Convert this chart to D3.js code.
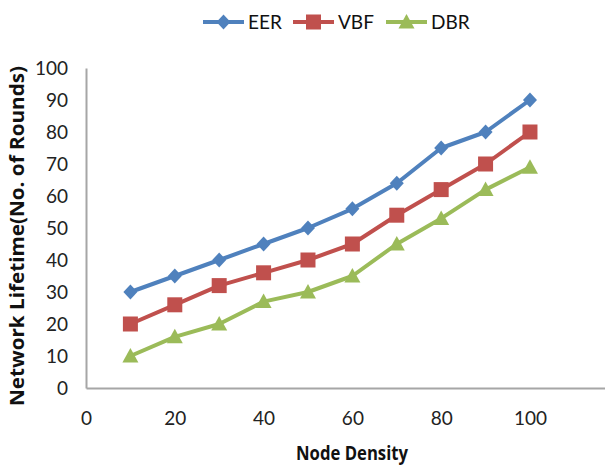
<!DOCTYPE html>
<html><head><meta charset="utf-8">
<script src="https://cdn.jsdelivr.net/npm/d3@7"></script>
<style>body{margin:0;background:#fff}svg{display:block}</style>
</head><body>
<svg id="c" width="605" height="466"></svg>
<script>
const xValues = [10,20,30,40,50,60,70,80,90,100];
const eer = [30,35,40,45,50,56,64,75,80,90];
const vbf = [20,26,32,36,40,45,54,62,70,80];
const dbr = [10,16,20,27,30,35,45,53,62,69];
const seriesNames = ["EER","VBF","DBR"];
const seriesColors = ["#4F81BD","#C0504D","#9BBB59"];
const xTicks = [0,20,40,60,80,100];
const yTicks = [0,10,20,30,40,50,60,70,80,90,100];

const series = [eer,vbf,dbr].map((v,i)=>({name:seriesNames[i],color:seriesColors[i],values:v}));
const font = "Lato,'Open Sans',sans-serif";
const svg = d3.select("#c");
const x = d3.scaleLinear().domain([0,116.9]).range([86,605]);
const y = d3.scaleLinear().domain([0,100]).range([388,68]);

// axes
const ya = svg.append("g").attr("transform","translate(86,0)")
  .call(d3.axisLeft(y).tickValues(yTicks).tickSize(0).tickPadding(18));
const xa = svg.append("g").attr("transform","translate(0,388)")
  .call(d3.axisBottom(x).tickValues(xTicks).tickSize(0).tickPadding(24));
[ya,xa].forEach(a=>{
  a.select(".domain").attr("stroke","#A6A6A6").attr("stroke-width",2);
  a.selectAll("text").attr("font-family",font).attr("font-size",19).attr("fill","#222");
});
ya.selectAll("text").attr("dy","0.35em");

function marker(g, type, color){
  if(type===0) g.append("path").attr("d","M0,-7.5L7,0L0,7.5L-7,0Z").attr("fill",color);
  else if(type===1) g.append("rect").attr("x",-7.5).attr("y",-7.5).attr("width",15).attr("height",15).attr("fill",color);
  else g.append("path").attr("d","M0,-8L8,6.5L-8,6.5Z").attr("fill",color);
}

const line = d3.line().x((d,i)=>x(xValues[i])).y(d=>y(d));
series.forEach((s,k)=>{
  svg.append("path").datum(s.values).attr("d",line).attr("fill","none")
    .attr("stroke",s.color).attr("stroke-width",4).attr("stroke-linejoin","round");
  s.values.forEach((v,i)=>{
    const g = svg.append("g").attr("transform",`translate(${x(xValues[i])},${y(v)})`);
    marker(g,k,s.color);
  });
});

// legend
const legX = [203,293,386];
series.forEach((s,k)=>{
  const g = svg.append("g").attr("transform",`translate(${legX[k]},22)`);
  g.append("line").attr("x1",0).attr("x2",41).attr("stroke",s.color).attr("stroke-width",4);
  const m = g.append("g").attr("transform","translate(20.5,0)");
  marker(m,k,s.color);
  g.append("text").attr("x",45).attr("y",0).attr("dy","0.35em").text(s.name)
    .attr("font-family",font).attr("font-size",19).attr("fill","#111");
});

// titles
svg.append("text").attr("transform","translate(24,236) rotate(-90)").attr("text-anchor","middle")
  .attr("font-family","'Open Sans',sans-serif").attr("font-weight","bold").attr("font-size",19)
  .attr("textLength",340).attr("lengthAdjust","spacingAndGlyphs")
  .attr("fill","#111").text("Network Lifetime(No. of Rounds)");
svg.append("text").attr("x",352).attr("y",460).attr("text-anchor","middle")
  .attr("font-family","'Open Sans',sans-serif").attr("font-weight","bold").attr("font-size",20)
  .attr("textLength",112).attr("lengthAdjust","spacingAndGlyphs")
  .attr("fill","#111").text("Node Density");
</script>
</body></html>
